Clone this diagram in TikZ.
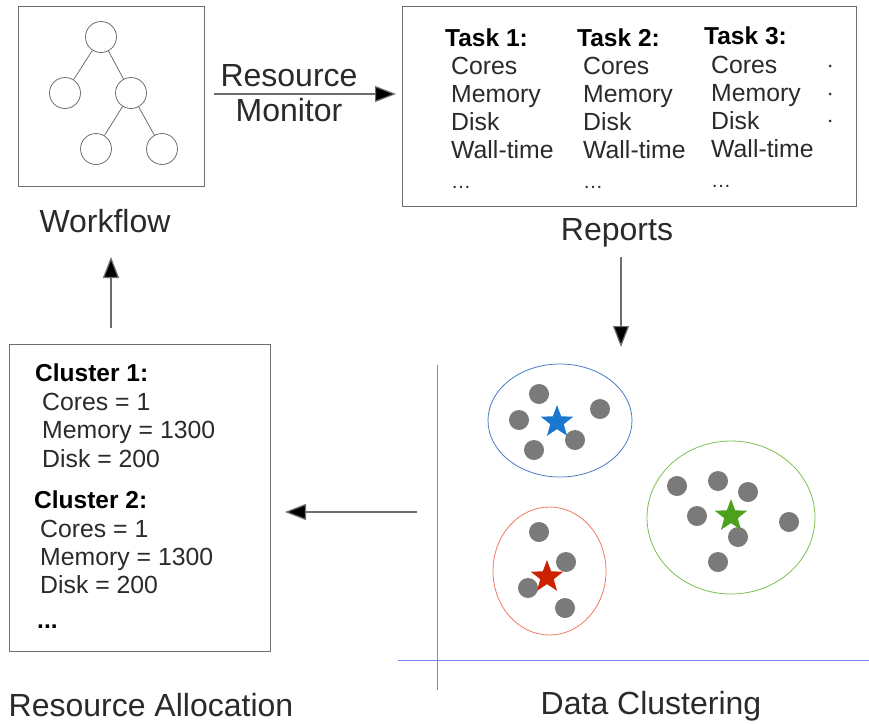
\documentclass[tikz,border=0pt]{standalone}
\usepackage{fontspec}
\setmainfont{Liberation Sans}
\usetikzlibrary{arrows.meta,shapes.geometric}
\definecolor{linegray}{HTML}{6E6E6E}
\definecolor{txt}{HTML}{2A2A2A}
\definecolor{dotgray}{HTML}{7A7A7A}
\definecolor{axisblue}{HTML}{8080F0}
\definecolor{ellblue}{HTML}{4A7CC4}
\definecolor{ellred}{HTML}{F07A60}
\definecolor{ellgreen}{HTML}{7CC050}
\definecolor{starblue}{HTML}{1A78D0}
\definecolor{starred}{HTML}{CC2200}
\definecolor{stargreen}{HTML}{4CA01C}
\tikzset{
  panel/.style={draw=linegray, line width=1pt},
  treenode/.style={circle, draw=linegray, line width=0.8pt, minimum size=31pt, inner sep=0pt},
  treeedge/.style={draw=linegray, line width=0.8pt},
  flow/.style={draw=linegray, line width=1.2pt, -{Triangle[length=21pt,width=16pt,fill=black]}},
  biglabel/.style={font=\fontsize{32}{36}\selectfont, text=txt, anchor=base, inner sep=0pt},
  body/.style={font=\fontsize{24.8}{28}\selectfont, text=txt, anchor=base west, inner sep=0pt},
  head/.style={font=\fontsize{24.5}{28}\selectfont\bfseries, text=black, anchor=base west, inner sep=0pt},
  pt/.style={circle, fill=dotgray, minimum size=20pt, inner sep=0pt},
  centroid/.style={star, star points=5, star point ratio=2.4, minimum size=34pt, inner sep=0pt},
  axis/.style={draw=axisblue, line width=0.9pt},
  smalldot/.style={circle, fill=txt, minimum size=3pt, inner sep=0pt}
}
\begin{document}
\begin{tikzpicture}[x=1pt,y=-1pt]
\useasboundingbox (0,0) rectangle (869,723);

% ---------- Workflow ----------
\draw[panel] (18,6) rectangle (204,186);
\node[treenode] (r)  at (101,37) {};
\node[treenode] (l)  at (65,93) {};
\node[treenode] (m)  at (131,93) {};
\node[treenode] (bl) at (96,149) {};
\node[treenode] (br) at (162,149) {};
\draw[treeedge] (r) -- (l);
\draw[treeedge] (r) -- (m);
\draw[treeedge] (m) -- (bl);
\draw[treeedge] (m) -- (br);
\node[biglabel] (wflabel) at (105,232) {Workflow};

% ---------- Resource monitor arrow ----------
\coordinate (rmA) at (214,94);
\coordinate (rmB) at (396,94);
\draw[flow] (rmA) -- (rmB);
\node[biglabel] (rm1) at (289,86) {Resource};
\node[biglabel] (rm2) at (289,121) {Monitor};

% ---------- Reports ----------
\draw[panel] (402,6) rectangle (856,206);
\node[head] (t1) at (445,46) {Task 1:};
\node[body] (t1a) at (451,74) {Cores};
\node[body] (t1b) at (451,102) {Memory};
\node[body] (t1c) at (451,130) {Disk};
\node[body] (t1d) at (451,158) {Wall-time};
\node[body] (t1e) at (451,188) {\fontsize{20}{22}\selectfont \dots};
\node[head] (t2) at (577,46) {Task 2:};
\node[body] (t2a) at (583,74) {Cores};
\node[body] (t2b) at (583,102) {Memory};
\node[body] (t2c) at (583,130) {Disk};
\node[body] (t2d) at (583,158) {Wall-time};
\node[body] (t2e) at (583,188) {\fontsize{20}{22}\selectfont \dots};
\node[head] (t3) at (704,44) {Task 3:};
\node[body] (t3a) at (711,73) {Cores};
\node[body] (t3b) at (711,101) {Memory};
\node[body] (t3c) at (711,129) {Disk};
\node[body] (t3d) at (711,157) {Wall-time};
\node[body] (t3e) at (711,187) {\fontsize{20}{22}\selectfont \dots};
\node[smalldot] (d1) at (830,66) {};
\node[smalldot] (d2) at (830,94) {};
\node[smalldot] (d3) at (830,121) {};
\node[biglabel] (replabel) at (617,240) {Reports};

% ---------- Reports -> clustering ----------
\coordinate (rcA) at (621,257);
\coordinate (rcB) at (621,347);
\draw[flow] (rcA) -- (rcB);

% ---------- Data clustering ----------
\coordinate (yaxT) at (437,365);
\coordinate (yaxB) at (437,690);
\coordinate (xaxL) at (398,660);
\coordinate (xaxR) at (869,660);
\draw[axis] (yaxT) -- (yaxB);
\draw[axis] (xaxL) -- (xaxR);

\draw[draw=ellblue, line width=0.8pt] (560,420.5) ellipse [x radius=72pt, y radius=56.5pt];
\draw[draw=ellred, line width=0.8pt] (549.5,571) ellipse [x radius=56.5pt, y radius=64pt];
\draw[draw=ellgreen, line width=0.8pt] (731,517.5) ellipse [x radius=84pt, y radius=76.5pt];

% blue cluster
\node[pt] (b1) at (539,394) {};
\node[pt] (b2) at (519,420) {};
\node[pt] (b3) at (600,409) {};
\node[pt] (b4) at (534,450) {};
\node[pt] (b5) at (575,440) {};
\node[centroid, fill=starblue] (bs) at (557,422) {};
% red cluster
\node[pt] (c1) at (539,532) {};
\node[pt] (c2) at (566,562) {};
\node[pt] (c3) at (528,588) {};
\node[pt] (c4) at (565,608) {};
\node[centroid, fill=starred] (cs) at (547,577) {};
% green cluster
\node[pt] (g1) at (677,486) {};
\node[pt] (g2) at (718,481) {};
\node[pt] (g3) at (748,492) {};
\node[pt] (g4) at (697,516) {};
\node[pt] (g5) at (738,537) {};
\node[pt] (g6) at (789,522) {};
\node[pt] (g7) at (718,562) {};
\node[centroid, fill=stargreen] (gs) at (731,516) {};

\node[biglabel] (dclabel) at (651,714) {Data Clustering};

% ---------- Clustering -> allocation ----------
\coordinate (caA) at (417,512);
\coordinate (caB) at (285,512);
\draw[flow] (caA) -- (caB);

% ---------- Resource allocation ----------
\draw[panel] (9,344) rectangle (270,651);
\node[head] (k1) at (35,381) {Cluster 1:};
\node[body] (k1a) at (42,410) {Cores = 1};
\node[body] (k1b) at (42,438) {Memory = 1300};
\node[body] (k1c) at (42,467) {Disk = 200};
\node[head] (k2) at (34,508) {Cluster 2:};
\node[body] (k2a) at (40,537) {Cores = 1};
\node[body] (k2b) at (40,565) {Memory = 1300};
\node[body] (k2c) at (40,593) {Disk = 200};
\node[head] (k3) at (37,628) {...};
\node[biglabel] (ralabel) at (151,716) {Resource Allocation};

% ---------- Allocation -> workflow ----------
\coordinate (awA) at (111,328);
\coordinate (awB) at (111,257);
\draw[flow] (awA) -- (awB);
\end{tikzpicture}
\end{document}
